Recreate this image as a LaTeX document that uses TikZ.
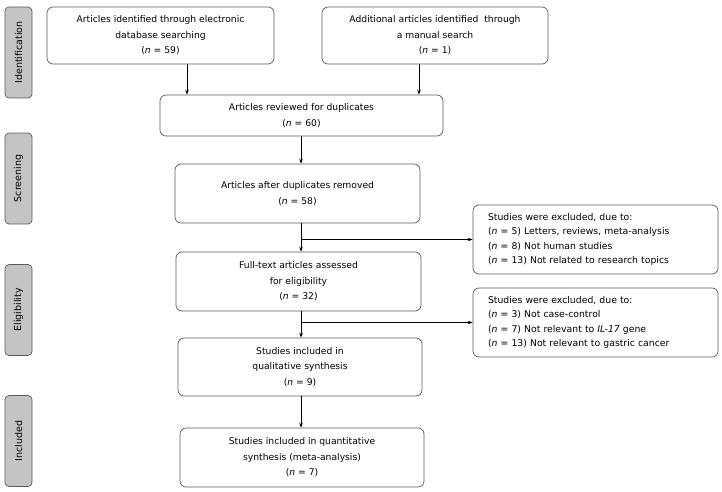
\documentclass[tikz,border=0pt]{standalone}
\usepackage{fontspec}
\setmainfont{DejaVu Sans}
\usetikzlibrary{arrows.meta}
\definecolor{bordergray}{HTML}{5A5A5A}
\definecolor{sidefill}{HTML}{C4C4C4}
\begin{document}
\begin{tikzpicture}[x=1pt,y=-1pt,
  box/.style={draw=bordergray,line width=0.7pt,rounded corners=6pt,align=center,
    font=\fontsize{9.2}{15.5}\selectfont,inner sep=0pt},
  exbox/.style={draw=bordergray,line width=0.7pt,rounded corners=6pt,align=left,
    font=\fontsize{9.3}{14.5}\selectfont,inner sep=0pt,text width=215pt},
  side/.style={draw=bordergray,fill=sidefill,line width=0.7pt,rounded corners=4pt,
    minimum width=91pt,minimum height=27pt,rotate=90,inner sep=0pt,
    font=\fontsize{9.5}{11}\selectfont},
  arr/.style={-{Stealth[length=5pt,width=3.5pt]},line width=0.6pt,black},
  ln/.style={line width=0.6pt,black}]
\useasboundingbox (0,0) rectangle (722,492);
\newcommand{\nn}{\textit{n}}
% side labels
\node[side] (sid) at (18.5,52.5) {Identification};
\node[side] (sscr) at (18.5,178.5) {Screening};
\node[side] (selig) at (18.5,310) {Eligibility};
\node[side] (sinc) at (18.5,441) {Included};
% main boxes
\node[box,minimum width=227pt,minimum height=57pt] (b1) at (160.5,35.5)
  {Articles identified through electronic\\database searching\\(\nn{} = 59)};
\node[box,minimum width=226pt,minimum height=57pt] (b2) at (435,35.5)
  {Additional articles identified \ through\\a manual search\\(\nn{} = 1)};
\node[box,minimum width=283pt,minimum height=41pt] (b3) at (301.5,115.5)
  {Articles reviewed for duplicates\\(\nn{} = 60)};
\node[box,minimum width=245pt,minimum height=59pt] (b4) at (297.5,193.5)
  {Articles after duplicates removed\\(\nn{} = 58)};
\node[box,minimum width=245pt,minimum height=59pt] (b5) at (298.5,281.5)
  {Full-text articles assessed\\for eligibility\\(\nn{} = 32)};
\node[box,minimum width=244pt,minimum height=58pt] (b6) at (300,367)
  {Studies included in\\qualitative synthesis\\(\nn{} = 9)};
\node[box,minimum width=244pt,minimum height=59pt] (b7) at (302,457.5)
  {Studies included in quantitative\\synthesis (meta-analysis)\\(\nn{} = 7)};
% exclusion boxes
\node[exbox,minimum width=245pt,minimum height=69pt] (e1) at (595.5,239.5)
  {Studies were excluded, due to:\\(\nn{} = 5) Letters, reviews, meta-analysis\\(\nn{} = 8) Not human studies\\(\nn{} = 13) Not related to research topics};
\node[exbox,minimum width=245pt,minimum height=69pt] (e2) at (595.5,322.5)
  {Studies were excluded, due to:\\(\nn{} = 3) Not case-control\\(\nn{} = 7) Not relevant to \textit{IL-17} gene\\(\nn{} = 13) Not relevant to gastric cancer};
% connectors
\coordinate (a1) at (187,64);
\coordinate (a2) at (419,64);
\coordinate (m) at (301,0);
\draw[arr] (a1) -- (a1 |- b3.north);
\draw[arr] (a2) -- (a2 |- b3.north);
\draw[arr] (m |- b3.south) -- (m |- b4.north);
\draw[arr] (m |- b4.south) -- (m |- b5.north);
\draw[arr] (m |- e1.west) -- (e1.west);
\draw[arr] (m |- b5.south) -- (m |- b6.north);
\draw[arr] (m |- e2.west) -- (e2.west);
\draw[arr] (m |- b6.south) -- (m |- b7.north);
\end{tikzpicture}
\end{document}
